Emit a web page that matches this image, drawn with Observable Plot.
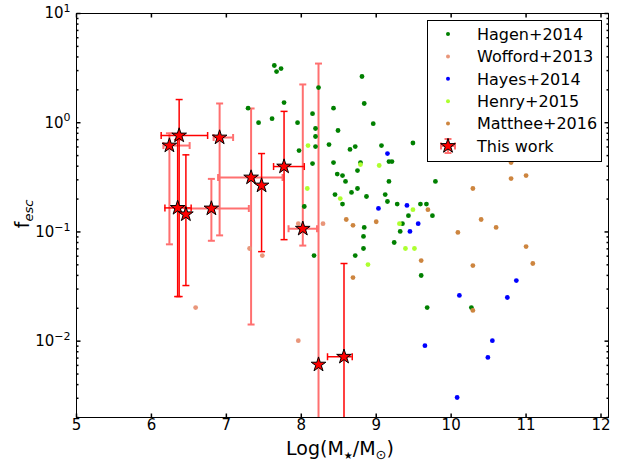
<!DOCTYPE html>
<html><head><meta charset="utf-8">
<script src="https://cdn.jsdelivr.net/npm/d3@7"></script>
<script src="https://cdn.jsdelivr.net/npm/@observablehq/plot@0.6"></script>
<style>body{margin:0;background:#fff;} svg{display:block;}</style>
</head><body><div id="chart"></div>
<script>
// ---- data ----
const hagenX = [7.64,7.67,7.73,8.23,8.81,7.77,8.84,7.29,8.43,8.15,7.61,7.43,7.95,8.96,8.19,8.49,8.19,9.49,8.37,9.07,8.19,8.72,8.65,7.97,8.15,8.43,8.79,9.17,9.21,8.75,8.48,8.55,8.59,9.17,9.79,8.45,8.67,8.75,8.87,9.12,9.15,8.55,9.28,9.59,9.67,8.04,9.43,9.75,9.35,9.32,8.84,8.83,9.24,8.83,8.72,8.17,9.60,9.68,10.27];
const hagenY = [3.34,2.94,3.13,2.10,2.65,1.53,1.50,1.36,1.36,1.21,1.09,1.00,1.00,0.98,0.885,0.849,0.748,0.652,0.631,0.618,0.605,0.605,0.569,0.556,0.423,0.432,0.432,0.441,0.441,0.365,0.339,0.328,0.290,0.290,0.290,0.220,0.230,0.250,0.211,0.220,0.190,0.180,0.180,0.180,0.180,0.171,0.141,0.141,0.119,0.101,0.110,0.091,0.080,0.0705,0.0608,0.0608,0.0399,0.0203,0.0203];
const woffordX = [6.59,7.31,7.48,7.96,8.29,7.96];
const woffordY = [0.0203,0.0705,0.0608,0.119,0.119,0.0101];
const hayesX = [9.15,9.03,9.41,9.56,9.45,9.65,10.11,10.75,10.87,10.55,10.49,10.08];
const hayesY = [0.522,0.164,0.175,0.119,0.101,0.0091,0.0262,0.0251,0.0359,0.0101,0.0071,0.00305];
const henryX = [8.09,8.08,8.52,8.79,9.04,9.49,9.31,8.89,9.39,9.51];
const henryY = [0.618,0.250,0.202,0.414,0.406,0.160,0.119,0.0503,0.0705,0.0705];
const mattheeX = [8.60,8.69,9.00,9.69,9.60,10.29,10.40,10.09,10.60,10.80,11.00,10.80,11.00,11.09,10.29,8.69,10.29];
const mattheeY = [0.130,0.115,0.124,0.160,0.0547,0.250,0.130,0.099,0.110,0.308,0.328,0.432,0.0735,0.0514,0.0492,0.0382,0.0191];
// This work (stars with error bars)
const workX   = [6.24,6.37,6.91,6.35,6.46,6.80,7.33,7.47,7.77,8.02,8.23,8.57];
const workY   = [0.618,0.764,0.732,0.166,0.145,0.164,0.315,0.266,0.397,0.107,0.0061,0.0072];
const workXlo = [6.16,6.13,6.83,6.18,6.46,6.45,6.89,7.47,7.63,7.83,8.23,8.35];
const workXhi = [6.51,6.75,7.09,6.53,6.46,7.30,7.75,7.47,8.04,8.21,8.23,8.68];
const workYlo = [0.077,0.0256,0.093,0.0256,0.0323,0.083,0.0142,0.066,0.085,0.075,0.0005,0.0005];
const workYhi = [0.80,1.63,1.50,0.70,0.508,0.306,1.35,0.522,1.27,2.24,3.48,0.0514];
const seriesNames = ["Hagen+2014","Wofford+2013","Hayes+2014","Henry+2015","Matthee+2016","This work"];
const xTicks = [5,6,7,8,9,10,11,12];
const yMajor = [0.01,0.1,1,10];

// ---- styling ----
const FONT = "'DejaVu Sans', sans-serif";
const colors = ["green","darksalmon","blue","greenyellow","peru"];
const RED = "#ff0000", PALE = "#ff7070";
const paleSet = new Set([0,2,5,6,9,10]);

const seriesXY = [[hagenX,hagenY],[woffordX,woffordY],[hayesX,hayesY],[henryX,henryY],[mattheeX,mattheeY]];
const dots = seriesXY.flatMap(([xs,ys],k) => xs.map((x,i)=>({x, y:ys[i], color:colors[k]})));
const stars = workX.map((x,i)=>({x, y:workY[i], xlo:workXlo[i], xhi:workXhi[i], ylo:workYlo[i], yhi:workYhi[i], pale:paleSet.has(i)}));
const yMinor = [];
for (let e=-3;e<=0;e++) for (let m=2;m<=9;m++){ const v=m*Math.pow(10,e); if (v>=0.002 && v<=10) yMinor.push(v); }

const lineSym = (ax,ay) => ({draw(ctx,size){const r=Math.sqrt(size/Math.PI); ctx.moveTo(0,0); ctx.lineTo(ax*r, ay*r);}});
const capH = {draw(ctx,size){const r=Math.sqrt(size/Math.PI); ctx.moveTo(-r,0); ctx.lineTo(r,0);}};
const capV = {draw(ctx,size){const r=Math.sqrt(size/Math.PI); ctx.moveTo(0,-r); ctx.lineTo(0,r);}};

function barMarks(data, color, w){
  const xe = data.filter(d=>d.xhi>d.xlo);
  const ylowIn = data.filter(d=>d.ylo>=0.002);
  return [
    Plot.ruleX(data, {x:"x", y1:"ylo", y2:"yhi", stroke:color, strokeWidth:w, clip:true}),
    Plot.ruleY(xe, {y:"y", x1:"xlo", x2:"xhi", stroke:color, strokeWidth:w}),
    Plot.dot(data, {x:"x", y:"yhi", symbol:capH, r:3.5, stroke:color, fill:"none", strokeWidth:w}),
    Plot.dot(ylowIn, {x:"x", y:"ylo", symbol:capH, r:3.5, stroke:color, fill:"none", strokeWidth:w}),
    Plot.dot(xe, {x:"xlo", y:"y", symbol:capV, r:3.5, stroke:color, fill:"none", strokeWidth:w}),
    Plot.dot(xe, {x:"xhi", y:"y", symbol:capV, r:3.5, stroke:color, fill:"none", strokeWidth:w})
  ];
}

const supMap = {"10":"1","1":"0","0.1":"−1","0.01":"−2"};

const plot = Plot.plot({
  width:625, height:463,
  marginLeft:76, marginRight:17, marginTop:13, marginBottom:46,
  x:{domain:[5,12.1], axis:null},
  y:{type:"log", domain:[0.002,10], axis:null},
  color:{type:"identity"},
  style:{fontFamily:FONT, fontSize:"15px", background:"white", color:"black"},
  marks:[
    ...barMarks(stars.filter(d=>d.pale), PALE, 2),
    ...barMarks(stars.filter(d=>!d.pale), RED, 1.5),
    Plot.dot(dots, {x:"x", y:"y", r:2.4, fill:"color"}),
    Plot.dot(stars, {x:"x", y:"y", symbol:"star", r:4.6, fill:"red", stroke:"black", strokeWidth:1}),
    // inward ticks
    Plot.dot(xTicks, {x:d=>d, frameAnchor:"bottom", symbol:lineSym(0,-1), r:4, stroke:"black", fill:"none"}),
    Plot.dot(xTicks, {x:d=>d, frameAnchor:"top", symbol:lineSym(0,1), r:4, stroke:"black", fill:"none"}),
    Plot.dot(yMajor, {y:d=>d, frameAnchor:"left", symbol:lineSym(1,0), r:4, stroke:"black", fill:"none"}),
    Plot.dot(yMajor, {y:d=>d, frameAnchor:"right", symbol:lineSym(-1,0), r:4, stroke:"black", fill:"none"}),
    Plot.dot(yMinor, {y:d=>d, frameAnchor:"left", symbol:lineSym(1,0), r:2, stroke:"black", fill:"none"}),
    Plot.dot(yMinor, {y:d=>d, frameAnchor:"right", symbol:lineSym(-1,0), r:2, stroke:"black", fill:"none"}),
    Plot.frame({stroke:"black", strokeWidth:1}),
    Plot.text(xTicks, {x:d=>d, frameAnchor:"bottom", dy:12, text:d=>String(d), fontSize:15, fill:"black"}),
    Plot.text(yMajor, {y:d=>d, frameAnchor:"left", dx:-6, textAnchor:"end", text:d=>"10^"+supMap[String(d)], fontSize:15, fill:"black"})
  ]
});
document.getElementById("chart").appendChild(plot);

const svg = d3.select(plot);
// superscripts on y tick labels
svg.selectAll("text").each(function(){
  const t = d3.select(this);
  const s = t.text();
  if (!s.includes("^")) return;
  const parts = s.split("^");
  t.text(parts[0]);
  t.append("tspan").attr("dy","-0.55em").attr("font-size","11px").text(parts[1]);
});

// axis titles
const xl = svg.append("text").attr("x",340).attr("y",455).attr("text-anchor","middle")
  .attr("font-family",FONT).attr("font-size","19px").attr("fill","black");
xl.append("tspan").text("Log(M");
xl.append("tspan").attr("dy","4").attr("font-size","10px").text("\u2605");
xl.append("tspan").attr("dy","-4").text("/M");
xl.append("tspan").attr("dy","4").attr("font-size","13px").text("\u2299");
xl.append("tspan").attr("dy","-4").text(")");

const yl = svg.append("text").attr("transform","translate(29,214) rotate(-90)").attr("text-anchor","middle")
  .attr("font-family",FONT).attr("font-size","19px").attr("fill","black");
yl.append("tspan").text("f");
yl.append("tspan").attr("dy","4").attr("font-size","13px").attr("font-style","italic").text("esc");

// legend
const lg = svg.append("g").attr("font-family",FONT).attr("text-anchor","start");
lg.append("rect").attr("x",427.5).attr("y",20.5).attr("width",174).attr("height",141)
  .attr("fill","white").attr("stroke","black").attr("stroke-width",1);
seriesNames.forEach((name,i)=>{
  const cy = 34 + i*22.4;
  if (i < 5) {
    lg.append("circle").attr("cx",448).attr("cy",cy).attr("r",2).attr("fill",colors[i]);
  } else {
    const c = PALE;
    lg.append("line").attr("x1",441).attr("x2",455).attr("y1",cy).attr("y2",cy).attr("stroke",c).attr("stroke-width",2);
    lg.append("line").attr("x1",448).attr("x2",448).attr("y1",cy-7).attr("y2",cy+7).attr("stroke",c).attr("stroke-width",2);
    lg.append("line").attr("x1",441).attr("x2",441).attr("y1",cy-3.5).attr("y2",cy+3.5).attr("stroke",c).attr("stroke-width",2);
    lg.append("line").attr("x1",455).attr("x2",455).attr("y1",cy-3.5).attr("y2",cy+3.5).attr("stroke",c).attr("stroke-width",2);
    lg.append("line").attr("x1",444.5).attr("x2",451.5).attr("y1",cy-7).attr("y2",cy-7).attr("stroke",c).attr("stroke-width",2);
    lg.append("line").attr("x1",444.5).attr("x2",451.5).attr("y1",cy+7).attr("y2",cy+7).attr("stroke",c).attr("stroke-width",2);
    lg.append("path").attr("d", d3.symbol(d3.symbolStar, Math.PI*4.6*4.6)()).attr("transform",`translate(448,${cy})`)
      .attr("fill","red").attr("stroke","black");
  }
  lg.append("text").attr("x",477).attr("y",cy+5.8).attr("font-size","16px").attr("fill","black").attr("text-anchor","start").text(name);
});
</script></body></html>
